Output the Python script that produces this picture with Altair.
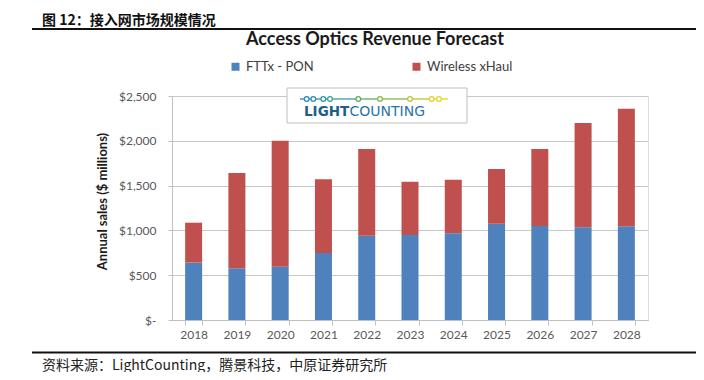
import altair as alt
import pandas as pd

years = ["2018", "2019", "2020", "2021", "2022", "2023", "2024", "2025", "2026", "2027", "2028"]
fttx_pon = [640, 577, 595, 748, 941, 949, 967, 1075, 1049, 1034, 1045]
wireless_xhaul = [446, 1064, 1406, 822, 967, 595, 599, 610, 859, 1165, 1314]
series = ["FTTx - PON", "Wireless xHaul"]
colors = ["#4F81BD", "#C0504D"]
y_ticks = [0, 500, 1000, 1500, 2000, 2500]

rows = []
for i, yr in enumerate(years):
    rows.append({"year": yr, "series": series[0], "value": fttx_pon[i], "ord": 0})
    rows.append({"year": yr, "series": series[1], "value": wireless_xhaul[i], "ord": 1})
df = pd.DataFrame(rows)

W, H = 476, 224
one = pd.DataFrame({"a": [0]})

bars = alt.Chart(df).mark_bar().encode(
    x=alt.X("year:N", sort=years,
            scale=alt.Scale(paddingInner=0.607, paddingOuter=0.3035),
            axis=alt.Axis(title=None, labelAngle=0, tickBand="extent", domainColor="#bfbfbf",
                          tickColor="#bfbfbf", tickSize=5, labelPadding=4, labelFont="Lato",
                          labelFontSize=12, labelColor="#595959", grid=False)),
    y=alt.Y("value:Q", stack="zero",
            scale=alt.Scale(domain=[0, 2500], nice=False),
            axis=alt.Axis(values=y_ticks, title="Annual sales ($ millions)",
                          labelExpr="datum.value == 0 ? '$-' : '$' + format(datum.value, ',')",
                          grid=True, gridColor="#c8c8c8", domainColor="#bfbfbf",
                          tickColor="#bfbfbf", tickSize=4, labelPadding=12,
                          labelFont="Lato", labelFontSize=12, labelColor="#595959",
                          titleFont="Lato", titleFontSize=13, titleFontWeight="bold",
                          titleColor="#1a1a1a", titleAngle=270, titleX=-70, titleY=105,
                          titleAlign="center", titleBaseline="middle")),
    color=alt.Color("series:N", scale=alt.Scale(domain=series, range=colors),
                    legend=alt.Legend(title=None, orient="none", legendX=57, legendY=-36,
                                      direction="horizontal", symbolType="square",
                                      symbolSize=64, symbolStrokeWidth=0, labelFont="Lato",
                                      labelFontSize=13, labelColor="#404040",
                                      labelOffset=4, columnPadding=96)),
    order=alt.Order("ord:Q", sort="ascending"),
)

layers = [bars]

def text_layer(txt, x, y, **kw):
    return alt.Chart(one).mark_text(baseline="middle", **kw).encode(
        x=alt.value(x), y=alt.value(y), text=alt.value(txt))

def hrule(x1, x2, y, color, width):
    return alt.Chart(one).mark_rule(color=color, strokeWidth=width).encode(
        x=alt.value(x1), x2=alt.value(x2), y=alt.value(y))

# header, lines, footer
layers.append(text_layer("图 12：接入网市场规模情况", -130, -75.5, align="left",
                         font="Noto Sans CJK SC", fontSize=14, fontWeight="bold",
                         color="#111111"))
layers.append(hrule(-140, 527, -67, "#111111", 2))
layers.append(hrule(-140, 527, 256.5, "#111111", 2))
layers.append(text_layer("资料来源：LightCounting，腾景科技，中原证券研究所", -130, 269.5,
                         align="left", font="Noto Sans CJK SC", fontSize=14, color="#222222"))
# chart title
layers.append(text_layer("Access Optics Revenue Forecast", 203, -56.5, align="center",
                         font="Lato", fontSize=18, fontWeight="bold", color="#1a1a1a"))

# logo
layers.append(alt.Chart(one).mark_rect(fill="white", stroke="#bfbfbf", strokeWidth=1).encode(
    x=alt.value(115), x2=alt.value(295), y=alt.value(-8), y2=alt.value(27)))
dots_x = [134.7, 141.3, 151.3, 158, 186.3, 208, 238, 259.7, 267]
dots_c = ["#2a86b8", "#2c8cb2", "#3096a8", "#3a9ea0", "#62ad5c", "#86b843", "#bcc433", "#e2d027", "#e8d423"]
seg_x = [128] + dots_x + [276]
seg_c = [dots_c[0]] + dots_c
for i in range(len(seg_x) - 1):
    layers.append(hrule(seg_x[i], seg_x[i + 1], 3, seg_c[i], 1.3))
for x, c in zip(dots_x, dots_c):
    layers.append(alt.Chart(one).mark_point(shape="circle", fill="white", fillOpacity=1,
                                            opacity=1, stroke=c, strokeWidth=1.3, size=22)
                  .encode(x=alt.value(x), y=alt.value(3)))
layers.append(text_layer("LIGHT", 132, 16, align="left", font="DejaVu Sans",
                         fontSize=13.5, fontWeight="bold", color="#1d5f8a"))
layers.append(text_layer("COUNTING", 177.5, 16, align="left", font="DejaVu Sans",
                         fontSize=14, color="#2b73a6"))

chart = alt.layer(*layers).properties(
    width=W, height=H,
    autosize=alt.AutoSizeParams(type="none"),
    padding={"left": 164, "top": 88, "right": 48, "bottom": 52},
).configure_view(stroke=None).configure(background="white")

chart.save("out.html", embed_options={"renderer": "svg", "actions": False})
